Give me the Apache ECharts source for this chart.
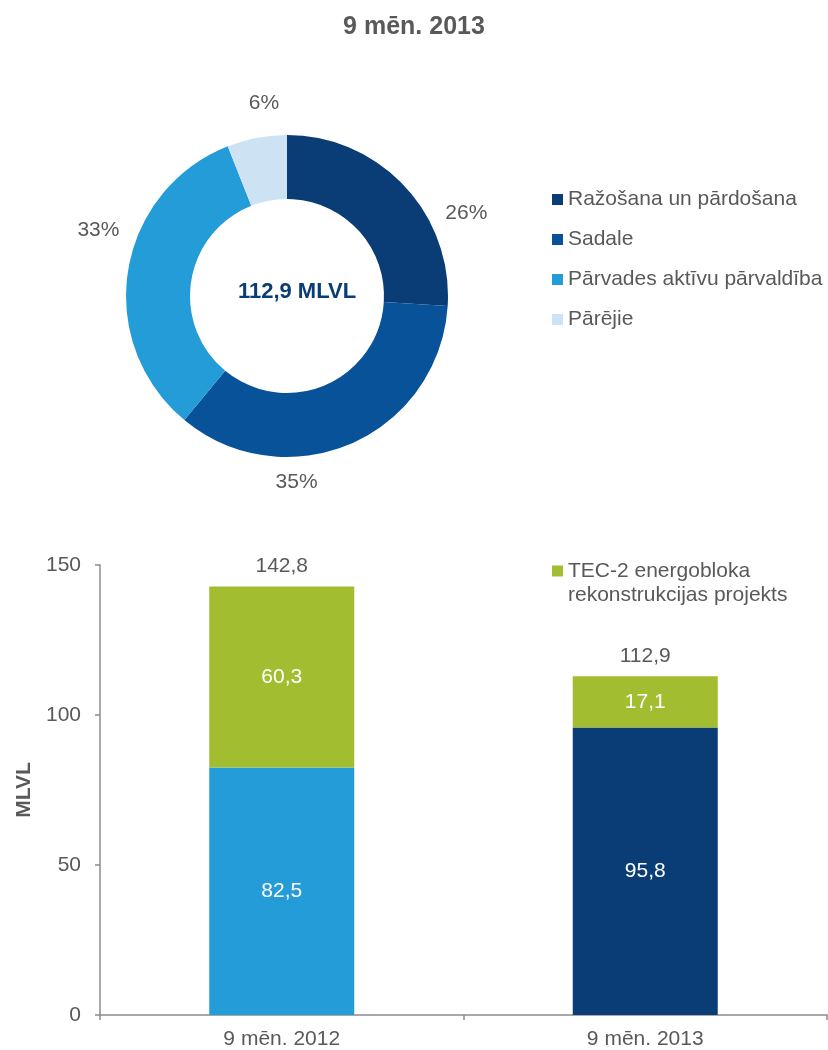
<!DOCTYPE html>
<html>
<head>
<meta charset="utf-8">
<script src="https://cdn.jsdelivr.net/npm/echarts@6/dist/echarts.min.js"></script>
<style>
  html, body { margin: 0; padding: 0; background: #fff; }
  #chart { width: 828px; height: 1050px; }
</style>
</head>
<body>
<div id="chart"></div>
<script>
// pie: structure of 9 mēn. 2013 investments
const segments = ['Ražošana un pārdošana', 'Sadale', 'Pārvades aktīvu pārvaldība', 'Pārējie'];
const segmentShare = [26, 35, 33, 6];
const pieTotal = '112,9 MLVL';

// bars
const periods = ['9 mēn. 2012', '9 mēn. 2013'];
const transmissionBar = [82.5, '-'];
const generationBar = ['-', 95.8];
const tecProject = [60.3, 17.1];
const periodTotals = [142.8, 112.9];
const yTicks = [0, 50, 100, 150];

const tecName = 'TEC-2 energobloka rekonstrukcijas projekts';
const segColors = ['#0a3c75', '#075298', '#249cd7', '#cde3f4'];
const green = '#a3bd31';
const grey = '#595959';
const font = 'Liberation Sans, Arial, sans-serif';
const fs = 21;

// nudges so pie % labels sit where the original placed them
const pctNudge = [[35, 53], [-69, 4], [7, -35], [14, 2]];

const fmt = v => String(v).replace('.', ',');

const chart = echarts.init(document.getElementById('chart'));

const pieData = segments.map((n, i) => ({ name: n, value: segmentShare[i], itemStyle: { color: segColors[i] } }));
const barLabel = { show: true, position: 'inside', color: '#fff', fontSize: fs, formatter: p => fmt(p.value) };

chart.setOption({
  animation: false,
  textStyle: { fontFamily: font },
  title: [
    {
      text: '9 mēn. 2013',
      left: 'center',
      top: 10,
      textStyle: { fontSize: 25, fontWeight: 'bold', color: grey, fontFamily: font }
    },
    {
      text: pieTotal,
      left: 292,
      top: 276,
      textAlign: 'center',
      textStyle: { fontSize: 22, fontWeight: 'bold', color: '#0a3c75', fontFamily: font }
    }
  ],
  legend: [
    {
      orient: 'vertical',
      left: 547,
      top: 184,
      icon: 'rect',
      itemWidth: 11,
      itemHeight: 11,
      itemGap: 19,
      selectedMode: false,
      data: segments,
      textStyle: { fontSize: fs, color: grey }
    },
    {
      orient: 'vertical',
      left: 547,
      top: 530,
      icon: 'rect',
      itemWidth: 11,
      itemHeight: 11,
      selectedMode: false,
      data: [tecName],
      // leading blank line keeps the square level with the first text line
      formatter: n => ' \n' + n.replace(' rekonstrukcijas', '\nrekonstrukcijas'),
      textStyle: { fontSize: fs, color: grey, lineHeight: 24 }
    }
  ],
  grid: { left: 100, right: 1, top: 565, bottom: 35 },
  xAxis: {
    type: 'category',
    data: periods,
    axisLine: { lineStyle: { color: '#8c8c8c', width: 1.5 } },
    axisTick: { show: true, length: 5, lineStyle: { color: '#8c8c8c', width: 1.5 } },
    axisLabel: { fontSize: fs, color: grey, margin: 14 }
  },
  yAxis: {
    type: 'value',
    min: yTicks[0],
    max: yTicks[yTicks.length - 1],
    interval: yTicks[1] - yTicks[0],
    name: 'MLVL',
    nameLocation: 'middle',
    nameGap: 57,
    nameRotate: 90,
    nameTextStyle: { fontSize: fs, fontWeight: 'bold', color: grey },
    splitLine: { show: false },
    axisLine: { show: true, lineStyle: { color: '#8c8c8c', width: 1.5 } },
    axisTick: { show: true, length: 5, lineStyle: { color: '#8c8c8c', width: 1.5 } },
    axisLabel: { fontSize: fs, color: grey, margin: 19 }
  },
  series: [
    {
      type: 'pie',
      center: [287, 296],
      radius: [97, 161],
      startAngle: 90,
      clockwise: true,
      silent: true,
      label: { show: false },
      labelLine: { show: false },
      data: pieData
    },
    {
      // invisible ring that carries the % labels
      type: 'pie',
      center: [287, 296],
      radius: [185, 205],
      startAngle: 90,
      silent: true,
      itemStyle: { color: 'transparent' },
      label: {
        show: true,
        position: 'inside',
        formatter: '{c}%',
        fontSize: fs,
        color: grey
      },
      labelLine: { show: false },
      labelLayout: p => ({ dx: pctNudge[p.dataIndex][0], dy: pctNudge[p.dataIndex][1] }),
      data: segments.map((n, i) => ({ name: n, value: segmentShare[i] }))
    },
    {
      name: 'Pārvades 2012',
      type: 'bar',
      stack: 'total',
      barWidth: 145,
      itemStyle: { color: segColors[2] },
      label: barLabel,
      data: transmissionBar
    },
    {
      name: 'Ražošana 2013',
      type: 'bar',
      stack: 'total',
      barWidth: 145,
      itemStyle: { color: segColors[0] },
      label: barLabel,
      data: generationBar
    },
    {
      name: tecName,
      type: 'bar',
      stack: 'total',
      barWidth: 145,
      itemStyle: { color: green },
      label: barLabel,
      data: tecProject
    },
    {
      // totals above the stacks
      type: 'bar',
      stack: 'total',
      barWidth: 145,
      silent: true,
      itemStyle: { color: 'transparent' },
      label: {
        show: true,
        position: 'insideBottom',
        distance: 10,
        color: grey,
        fontSize: fs,
        formatter: p => fmt(periodTotals[p.dataIndex])
      },
      data: periodTotals.map(() => 0)
    }
  ]
});
</script>
</body>
</html>
